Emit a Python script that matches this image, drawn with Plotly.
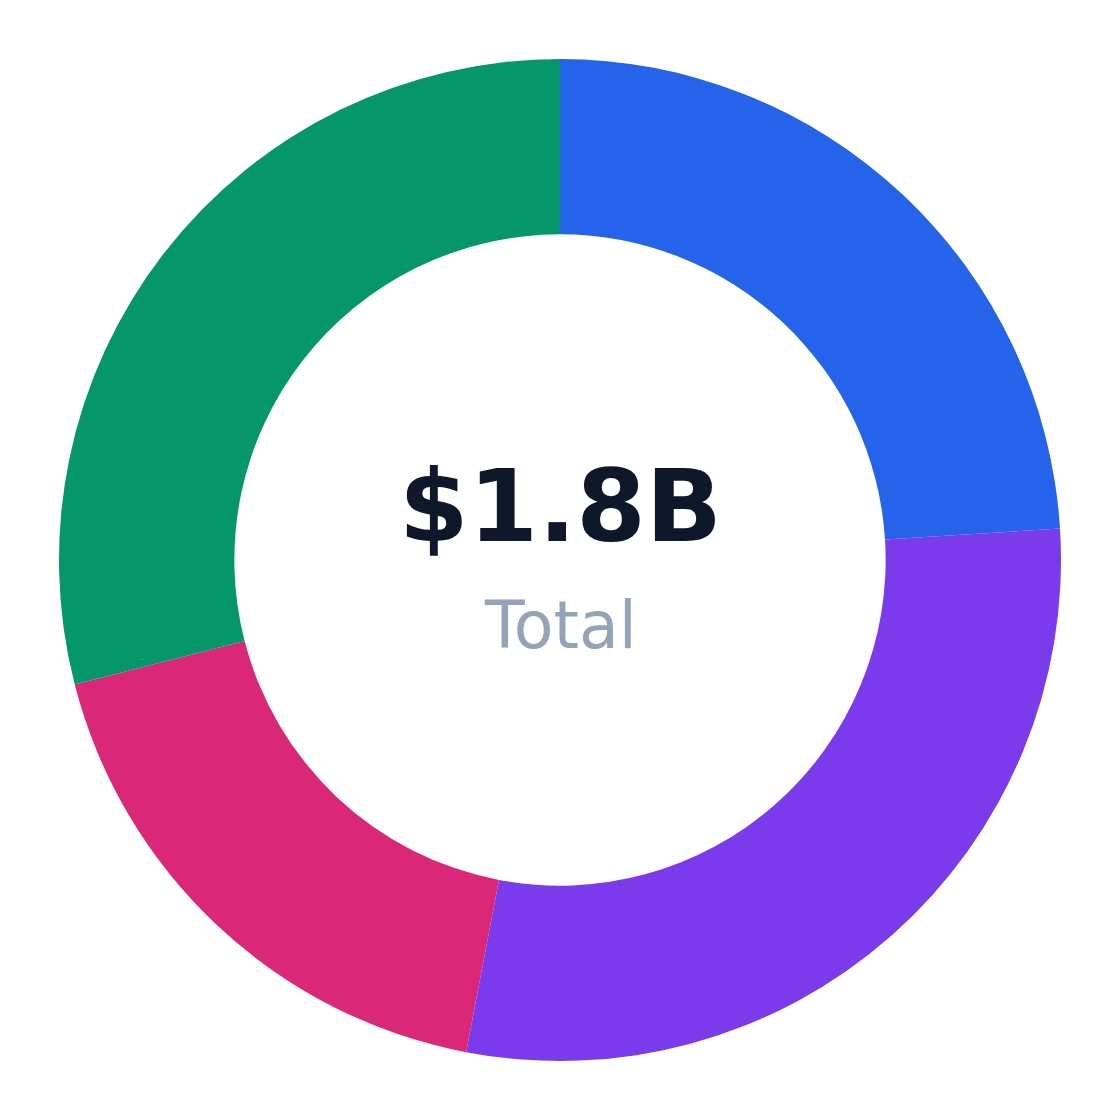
import plotly.graph_objects as go

# Segment values in $M (sum = 1.8B)
segments = ["Segment A", "Segment B", "Segment C", "Segment D"]
values = [432, 522, 324, 522]
colors = ["#2563eb", "#7c3aed", "#db2777", "#059669"]

total_label = "$1.8B"
sub_label = "Total"

fig = go.Figure()

fig.add_trace(go.Pie(
    labels=segments,
    values=values,
    hole=0.65,
    sort=False,
    direction="clockwise",
    rotation=0,
    marker=dict(colors=colors, line=dict(width=0)),
    textinfo="none",
    hoverinfo="label+value+percent",
))

fig.add_annotation(
    text=f"<b>{total_label}</b>", x=0.5, y=0.5, xref="paper", yref="paper",
    yshift=54, showarrow=False,
    font=dict(family="DejaVu Sans", size=100, color="#0f172a"),
)
fig.add_annotation(
    text=sub_label, x=0.5, y=0.5, xref="paper", yref="paper",
    yshift=-65, showarrow=False,
    font=dict(family="DejaVu Sans", size=65, color="#94a3b8"),
)

fig.update_layout(
    width=1120, height=1120,
    showlegend=False,
    margin=dict(l=51, r=67, t=51, b=67),
    paper_bgcolor="white",
    plot_bgcolor="white",
)

fig.write_html("out.html")
